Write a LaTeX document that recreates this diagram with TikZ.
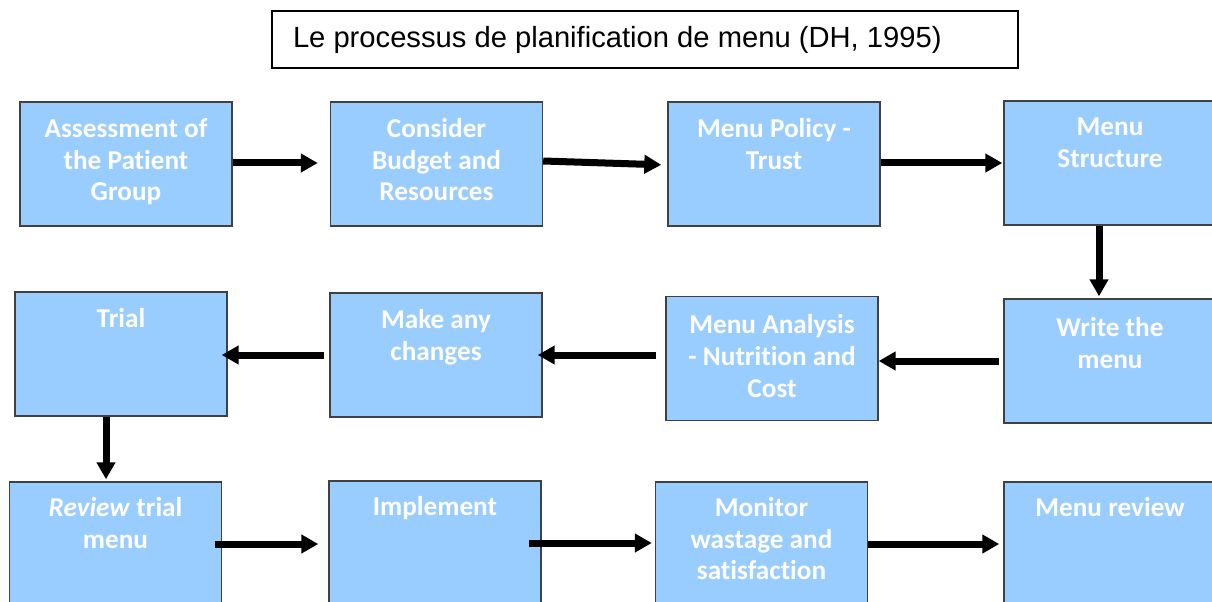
\documentclass[tikz,border=0pt]{standalone}
\usepackage{fontspec}
\setmainfont{Carlito}[Ligatures=CommonOff]
\newfontfamily\titlefont{Liberation Sans}
\usetikzlibrary{arrows.meta, positioning}

\definecolor{stageblue}{HTML}{99CCFF}

\tikzset{
  stage/.style={draw=black!75, line width=0.8pt, fill=stageblue, minimum width=4.24cm, minimum height=2.48cm, inner sep=0pt},
  stagetext/.style={text=white, text width=4.2cm, align=flush center, inner sep=0pt},
  flow/.style={->, line width=0.14cm},
}

\begin{document}
\begin{tikzpicture}[>={Triangle[length=0.34cm, width=0.36cm]}, font=\fontsize{15.5}{18.1}\selectfont\bfseries]
    \useasboundingbox (0,0) rectangle (24.24,-12.04);
    \clip (0,0) rectangle (24.24,-12.04);

    \node[draw, line width=0.8pt, minimum width=14.92cm, minimum height=1.14cm, text width=14.08cm, inner xsep=0.42cm, align=flush left, font=\titlefont\mdseries\fontsize{16.6}{20}\selectfont] at (12.90,-0.79) (title) {Le processus de planification de menu (DH, 1995)};

    % first row
    \node[stage] at (2.52,-3.28) (assess) {};
    \node[stagetext, below=0.72cm of assess.north, anchor=base] (assess-text) {Assessment of\\the Patient\\Group};
    \node[stage] at (8.73,-3.28) (budget) {};
    \node[stagetext, below=0.72cm of budget.north, anchor=base] (budget-text) {Consider\\Budget and\\Resources};
    \node[stage] at (15.48,-3.28) (policy) {};
    \node[stagetext, below=0.72cm of policy.north, anchor=base] (policy-text) {Menu Policy -\\Trust};
    \node[stage] at (22.20,-3.26) (structure) {};
    \node[stagetext, below=0.70cm of structure.north, anchor=base] (structure-text) {Menu\\Structure};

    % second row
    \node[stage] at (2.42,-7.08) (trial) {};
    \node[stagetext, below=0.72cm of trial.north, anchor=base] (trial-text) {Trial};
    \node[stage] at (8.72,-7.10) (changes) {};
    \node[stagetext, below=0.72cm of changes.north, anchor=base] (changes-text) {Make any\\changes};
    \node[stage] at (15.44,-7.17) (analysis) {};
    \node[stagetext, below=0.76cm of analysis.north, anchor=base] (analysis-text) {Menu Analysis\\- Nutrition and\\Cost};
    \node[stage] at (22.20,-7.22) (write) {};
    \node[stagetext, below=0.76cm of write.north, anchor=base] (write-text) {Write the\\menu};

    % third row
    \node[stage] at (2.31,-10.88) (review) {};
    \node[stagetext, below=0.70cm of review.north, anchor=base] (review-text) {\textit{Review} trial\\menu};
    \node[stage] at (8.70,-10.86) (implement) {};
    \node[stagetext, below=0.71cm of implement.north, anchor=base] (implement-text) {Implement};
    \node[stage] at (15.23,-10.88) (monitor) {};
    \node[stagetext, below=0.70cm of monitor.north, anchor=base] (monitor-text) {Monitor\\wastage and\\satisfaction};
    \node[stage] at (22.20,-10.88) (menureview) {};
    \node[stagetext, below=0.70cm of menureview.north, anchor=base] (menureview-text) {Menu review};

    \draw[flow, shorten >=0.24cm] ([yshift=0.02cm]assess.east) -- ([yshift=0.02cm]budget.west);
    \draw[flow, shorten >=0.12cm] ([yshift=0.06cm]budget.east) -- ([yshift=-0.02cm]policy.west);
    \draw[flow, shorten >=0.02cm] ([yshift=0.02cm]policy.east) -- (structure.west);
    \draw[flow, shorten >=0.04cm] ([xshift=-0.22cm]structure.south) -- ([xshift=-0.22cm]write.north);
    \draw[flow, shorten <=0.08cm] (write.west) -- (write.west -| analysis.east);
    \draw[flow, shorten <=0.18cm, shorten >=-0.1cm] (analysis.west |- changes.east) -- (changes.east);
    \draw[flow, shorten <=0.1cm, shorten >=-0.12cm] (changes.west) -- (changes.west -| trial.east);
    \draw[flow, shorten >=0.04cm] ([xshift=-0.3cm]trial.south) -- ([xshift=-0.19cm]review.north);
    \draw[flow, shorten <=-0.14cm, shorten >=0.2cm] (review.east) -- (review.east -| implement.west);
    \draw[flow, shorten <=-0.26cm, shorten >=0.06cm] (implement.east) -- (implement.east -| monitor.west);
    \draw[flow, shorten >=0.08cm] (monitor.east) -- (monitor.east -| menureview.west);
\end{tikzpicture}
\end{document}
